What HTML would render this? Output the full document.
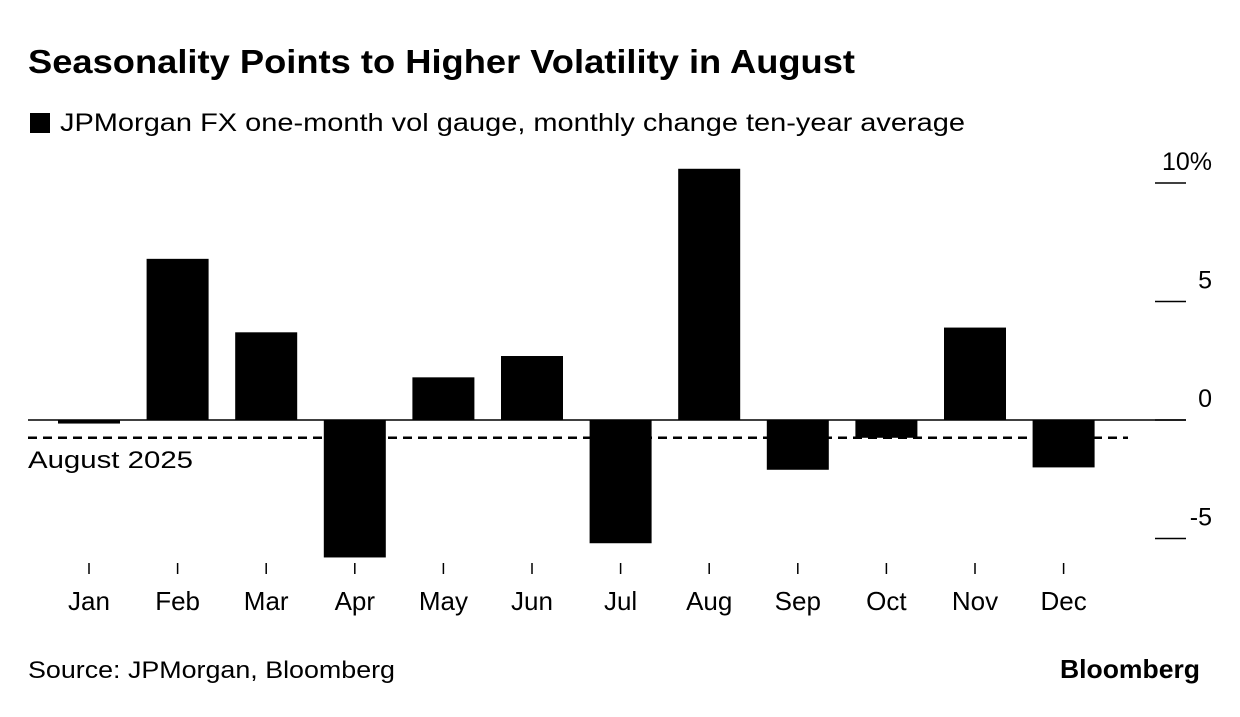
<!DOCTYPE html>
<html><head><meta charset="utf-8"><style>
body{margin:0;background:#fff;width:1240px;height:712px;overflow:hidden;font-family:"Liberation Sans",sans-serif;}
</style></head><body>
<svg id="c" width="1240" height="712" xmlns="http://www.w3.org/2000/svg" font-family="Liberation Sans, sans-serif">
<text x="28" y="73" font-size="33" font-weight="bold" fill="#000" textLength="827" lengthAdjust="spacingAndGlyphs">Seasonality Points to Higher Volatility in August</text>
<rect x="30" y="113" width="20" height="20" fill="#000"/>
<text x="60" y="131" font-size="25" fill="#000" textLength="905" lengthAdjust="spacingAndGlyphs">JPMorgan FX one-month vol gauge, monthly change ten-year average</text>
<g id="plot"></g>
<text x="28" y="678" font-size="24" fill="#000" textLength="367" lengthAdjust="spacingAndGlyphs">Source: JPMorgan, Bloomberg</text>
<text x="1200" y="678" font-size="26" font-weight="bold" fill="#000" text-anchor="end" textLength="140" lengthAdjust="spacingAndGlyphs">Bloomberg</text>
</svg>
<script>
const months=["Jan","Feb","Mar","Apr","May","Jun","Jul","Aug","Sep","Oct","Nov","Dec"];
const values=[-0.15,6.8,3.7,-5.8,1.8,2.7,-5.2,10.6,-2.1,-0.75,3.9,-2.0];
const yTicks=[10,5,0,-5];
const yTickLabels=["10%","5","0","-5"];
const refValue=-0.75;
const refLabel="August 2025";
const ns="http://www.w3.org/2000/svg";
const g=document.getElementById('plot');
const y=v=>420-v*23.7;
const x=i=>89+i*88.6;
function mk(t,a){const e=document.createElementNS(ns,t);for(const k in a)e.setAttribute(k,a[k]);g.appendChild(e);return e;}
yTicks.forEach((t,i)=>{
  const l=mk('line',{x1:1155,x2:1186,y1:y(t),y2:y(t),stroke:'#000','stroke-width':1.5});
  
  
  const tx=mk('text',{x:1212,y:y(t)-13,'font-size':25,'text-anchor':'end',fill:'#000'});
  tx.textContent=yTickLabels[i];
  
  
});
const d=mk('line',{x1:28,x2:1128,y1:y(refValue),y2:y(refValue),stroke:'#000','stroke-width':2.5,'stroke-dasharray':'9,6'});


values.forEach((v,i)=>{
  const r=mk('rect',{x:x(i)-31,width:62,y:Math.min(y(v),y(0)),height:Math.abs(y(v)-y(0)),fill:'#000'});
  
  
  const tk=mk('line',{x1:x(i),x2:x(i),y1:563,y2:574,stroke:'#000','stroke-width':1.5});
  
  
  const t=mk('text',{x:x(i),y:610,'font-size':26,'text-anchor':'middle',fill:'#000'});
  t.textContent=months[i];
  
  
});
const z=mk('line',{x1:28,x2:1186,y1:y(0),y2:y(0),stroke:'#000','stroke-width':1.5});


const rl=mk('text',{x:28,y:y(refValue)+30,'font-size':24,fill:'#000',textLength:165,lengthAdjust:'spacingAndGlyphs'});
rl.textContent=refLabel;


</script>
</body></html>
